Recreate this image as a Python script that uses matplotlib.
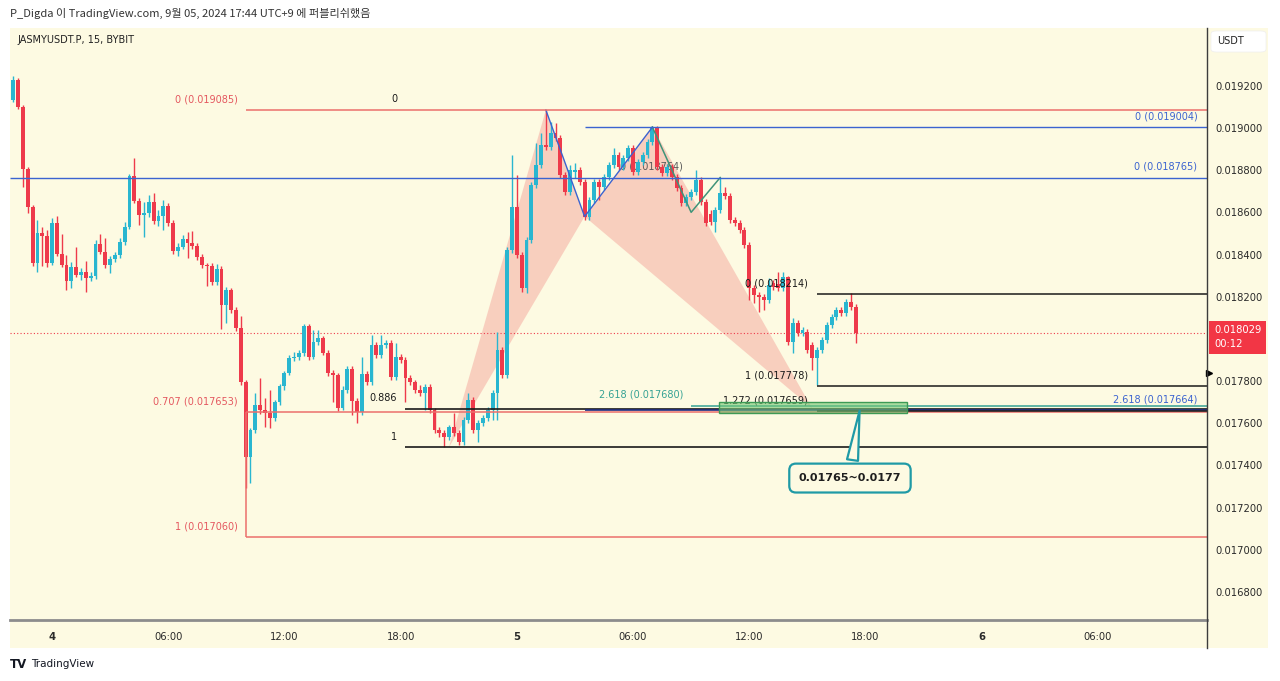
import numpy as np
import pandas as pd
import matplotlib
matplotlib.use("Agg")
import matplotlib.pyplot as plt
import matplotlib.dates as mdates
from matplotlib.patches import Rectangle, FancyBboxPatch
from matplotlib.lines import Line2D
from matplotlib.ticker import FuncFormatter

W, H = 1280, 681
BG = "#fdfae2"
UP = "#29b6d0"
DOWN = "#ee3a4b"

# ===============================
# DATA: JASMYUSDT.P 15m candles (values in 1e-6 USDT)
# ===============================
open_u = [
    19132, 19227, 19100, 18806, 18625, 18360, 18502, 18488, 18360, 18550,
    18402, 18350, 18274, 18341, 18303, 18317, 18289, 18298, 18450, 18412,
    18350, 18379, 18398, 18459, 18531, 18772, 18654, 18587, 18597, 18649,
    18559, 18583, 18630, 18550, 18417, 18436, 18474, 18455, 18440, 18388,
    18350, 18346, 18270, 18331, 18161, 18232, 18137, 18052, 17796, 17440,
    17568, 17687, 17663, 17649, 17625, 17701, 17777, 17838, 17909, 17914,
    17933, 18061, 17914, 17985, 18004, 17933, 17838, 17829, 17672, 17758,
    17857, 17706, 17653, 17833, 17796, 17971, 17924, 17971, 17980, 17819,
    17914, 17900, 17815, 17796, 17758, 17743, 17772, 17663, 17568, 17554,
    17535, 17582, 17554, 17511, 17615, 17710, 17568, 17601, 17625, 17663,
    17743, 17947, 17829, 18421, 18625, 18398, 18241, 18469, 18730, 18825,
    18919, 18910, 18976, 18952, 18777, 18696, 18791, 18801, 18744, 18578,
    18659, 18744, 18720, 18768, 18825, 18872, 18815, 18858, 18905, 18791,
    18839, 18872, 18934, 19000, 18815, 18787, 18815, 18768, 18715, 18644,
    18673, 18696, 18753, 18649, 18592, 18554, 18611, 18692, 18678, 18564,
    18550, 18516, 18445, 18241, 18208, 18199, 18184, 18265, 18260, 18241,
    18293, 17985, 18075, 18028, 18033, 17971, 17909, 17947, 17995, 18066,
    18104, 18137, 18123, 18175, 18151,
]
high_u = [
    19246, 19237, 19109, 18815, 18635, 18564, 18531, 18516, 18573, 18583,
    18497, 18398, 18365, 18436, 18336, 18369, 18317, 18469, 18497, 18478,
    18393, 18412, 18478, 18554, 18782, 18858, 18668, 18649, 18682, 18692,
    18611, 18659, 18644, 18564, 18455, 18493, 18507, 18512, 18455, 18402,
    18360, 18360, 18355, 18346, 18246, 18241, 18151, 18109, 17805, 17577,
    17743, 17815, 17720, 17758, 17710, 17786, 17848, 17924, 17938, 17947,
    18071, 18071, 18042, 18042, 18014, 17947, 17852, 17838, 17777, 17871,
    17871, 17720, 17914, 17848, 18018, 17985, 18018, 17995, 17995, 17980,
    17928, 17914, 17829, 17805, 17781, 17786, 17786, 17672, 17582, 17568,
    17592, 17649, 17568, 17630, 17743, 17724, 17615, 17639, 17677, 17758,
    18033, 17961, 18436, 18872, 18777, 18412, 18483, 18744, 18929, 18976,
    19085, 19028, 19024, 18967, 18791, 18825, 18834, 18815, 18758, 18673,
    18758, 18758, 18782, 18839, 18905, 18886, 18872, 18919, 18919, 18853,
    18886, 18948, 19009, 19009, 18829, 18829, 18829, 18782, 18730, 18687,
    18711, 18801, 18768, 18663, 18611, 18625, 18763, 18720, 18692, 18578,
    18564, 18531, 18459, 18255, 18222, 18213, 18289, 18279, 18317, 18317,
    18298, 18099, 18090, 18056, 18047, 17985, 17961, 18009, 18080, 18118,
    18151, 18151, 18189, 18218, 18165,
]
low_u = [
    19123, 19090, 18720, 18597, 18346, 18317, 18346, 18341, 18350, 18393,
    18341, 18232, 18241, 18293, 18279, 18222, 18274, 18284, 18402, 18336,
    18312, 18365, 18384, 18445, 18521, 18644, 18540, 18483, 18578, 18545,
    18535, 18516, 18535, 18402, 18393, 18426, 18384, 18426, 18374, 18336,
    18251, 18255, 18255, 18047, 18075, 18123, 18037, 17781, 17293, 17317,
    17554, 17644, 17582, 17577, 17611, 17687, 17758, 17829, 17895, 17900,
    17919, 17900, 17905, 17971, 17924, 17824, 17701, 17658, 17663, 17743,
    17639, 17601, 17639, 17781, 17781, 17909, 17909, 17957, 17805, 17805,
    17886, 17701, 17781, 17743, 17729, 17663, 17649, 17554, 17535, 17487,
    17521, 17540, 17497, 17497, 17601, 17554, 17511, 17587, 17611, 17615,
    17615, 17815, 17815, 18407, 18384, 18222, 18218, 18455, 18715, 18810,
    18896, 18896, 18938, 18763, 18682, 18682, 18763, 18730, 18564, 18564,
    18644, 18659, 18706, 18753, 18810, 18801, 18801, 18844, 18777, 18777,
    18825, 18858, 18919, 18801, 18772, 18772, 18753, 18701, 18630, 18630,
    18659, 18682, 18635, 18535, 18540, 18507, 18597, 18663, 18550, 18535,
    18502, 18431, 18184, 18170, 18127, 18137, 18170, 18232, 18227, 18227,
    17971, 17933, 18014, 18014, 17933, 17852, 17781, 17933, 17980, 18052,
    18090, 18109, 18109, 18137, 17980,
]
close_u = [
    19227, 19100, 18806, 18625, 18360, 18502, 18488, 18360, 18550, 18402,
    18350, 18274, 18341, 18303, 18317, 18289, 18298, 18450, 18412, 18350,
    18379, 18398, 18459, 18531, 18772, 18654, 18587, 18597, 18649, 18559,
    18583, 18630, 18550, 18417, 18436, 18474, 18455, 18440, 18388, 18350,
    18346, 18270, 18331, 18161, 18232, 18137, 18052, 17796, 17440, 17568,
    17687, 17663, 17649, 17625, 17701, 17777, 17838, 17909, 17914, 17933,
    18061, 17914, 17985, 18004, 17933, 17838, 17829, 17672, 17758, 17857,
    17706, 17653, 17833, 17796, 17971, 17924, 17971, 17980, 17819, 17914,
    17900, 17815, 17796, 17758, 17743, 17772, 17663, 17568, 17554, 17535,
    17582, 17554, 17511, 17615, 17710, 17568, 17601, 17625, 17663, 17743,
    17947, 17829, 18421, 18625, 18398, 18241, 18469, 18730, 18825, 18919,
    18910, 18976, 18952, 18777, 18696, 18801, 18801, 18744, 18578, 18659,
    18744, 18720, 18768, 18825, 18872, 18815, 18858, 18905, 18791, 18839,
    18872, 18934, 19000, 18815, 18787, 18815, 18768, 18715, 18644, 18673,
    18696, 18753, 18649, 18550, 18554, 18611, 18692, 18678, 18564, 18550,
    18516, 18445, 18241, 18208, 18199, 18184, 18255, 18246, 18241, 18293,
    17985, 18075, 18028, 18042, 17947, 17909, 17947, 17995, 18066, 18104,
    18137, 18123, 18175, 18151, 18029,
]
first_candle = "2024-09-03 22:00"

# Drawing levels (USDT)
red_fib_levels = [0.019085, 0.017653, 0.017060]
red_fib_labels = ["0 (0.019085)", "0.707 (0.017653)", "1 (0.017060)"]
black_fib_levels = [0.019085, 0.017669, 0.017487]
black_fib_labels = ["0", "0.886", "1"]
right_fib_levels = [0.018214, 0.017778, 0.017659]
right_fib_labels = ["0 (0.018214)", "1 (0.017778)", "1.272 (0.017659)"]
harmonic_times = ["2024-09-04 20:30", "2024-09-05 01:30", "2024-09-05 03:30",
                  "2024-09-05 07:00", "2024-09-05 15:15"]
harmonic_prices = [0.017487, 0.019085, 0.018580, 0.019004, 0.017670]
abcd_times = ["2024-09-05 07:00", "2024-09-05 09:00", "2024-09-05 10:30"]
abcd_prices = [0.019004, 0.018600, 0.018765]
zone_low, zone_high = 0.01765, 0.0177
zone_label = "0.01765~0.0177"

# 0.018000 is hidden under the last-price tag on the price scale
y_ticks = [0.0168, 0.0170, 0.0172, 0.0174, 0.0176, 0.0178,
           0.0182, 0.0184, 0.0186, 0.0188, 0.0190, 0.0192]
x_tick_times = ["2024-09-04 00:00", "2024-09-04 06:00", "2024-09-04 12:00",
                "2024-09-04 18:00", "2024-09-05 00:00", "2024-09-05 06:00",
                "2024-09-05 12:00", "2024-09-05 18:00", "2024-09-06 00:00",
                "2024-09-06 06:00"]
x_tick_labels = ["4", "06:00", "12:00", "18:00", "5", "06:00", "12:00",
                 "18:00", "6", "06:00"]

o = np.array(open_u) * 1e-6
h = np.array(high_u) * 1e-6
l = np.array(low_u) * 1e-6
c = np.array(close_u) * 1e-6
times = pd.date_range(first_candle, periods=len(c), freq="15min")
xs = mdates.date2num(times)


def tx(s):
    return mdates.date2num(pd.Timestamp(s))


def fx(px):
    return px / W


def fy(py):
    return 1 - py / H


fig = plt.figure(figsize=(W / 100, H / 100), dpi=100)
fig.patch.set_facecolor("white")
fig.add_artist(Rectangle((fx(10), fy(648)), fx(1268) - fx(10), fy(28) - fy(648),
                         transform=fig.transFigure, fc=BG, ec="none", zorder=0))

ax = fig.add_axes([fx(10), fy(620), fx(1207) - fx(10), fy(28) - fy(620)])
ax.set_facecolor(BG)
x_left, x_right = tx("2024-09-03 21:50"), tx("2024-09-06 11:38")
ax.set_xlim(x_left, x_right)
ax.set_ylim(0.016667, 0.019474)
for s in ax.spines.values():
    s.set_visible(False)

# harmonic pattern fill (under candles)
PINK = "#f8cbbb"
hx = [tx(t) for t in harmonic_times]
ax.fill([hx[0], hx[1], hx[2]], harmonic_prices[:3], color=PINK, alpha=0.9, lw=0, zorder=1)
ax.fill([hx[2], hx[3], hx[4]], harmonic_prices[2:], color=PINK, alpha=0.9, lw=0, zorder=1)
ax.annotate("0 (0.018764)", (tx("2024-09-05 08:35"), 0.018765), xytext=(0, 4),
            textcoords="offset points", ha="right", va="bottom", fontsize=7,
            color="#5a5a5a", zorder=2)

# candles
up = c >= o
cols = np.where(up, UP, DOWN)
ax.vlines(xs, l, h, colors=cols, lw=1, zorder=3)
ax.bar(xs, np.maximum(np.abs(c - o), 0.000003), bottom=np.minimum(o, c),
       width=0.2 / 24, color=cols, lw=0, zorder=4)

# zigzags
ax.plot(hx[1:4], harmonic_prices[1:4], color="#3b63d0", lw=1, zorder=5)
ax.plot([tx(t) for t in abcd_times], abcd_prices, color="#3f9479", lw=1.1, zorder=5)

# current price line
last = c[-1]
ax.axhline(last, color=DOWN, ls=(0, (1, 2)), lw=0.8, zorder=2)

# red fib (left)
red = "#e4575f"
x0 = tx("2024-09-04 10:00")
for lev, lab in zip(red_fib_levels, red_fib_labels):
    ax.hlines(lev, x0, x_right, color="#ec6f6c", lw=1.1, zorder=5)
    ax.annotate(lab, (tx("2024-09-04 09:36"), lev), xytext=(0, 4), textcoords="offset points",
                ha="right", va="bottom", fontsize=7, color=red, zorder=6)
ax.vlines(x0, red_fib_levels[2], red_fib_levels[1], color="#ec6f6c", lw=1.1, zorder=5)

# black fib (0 / 0.886 / 1)
x1 = tx("2024-09-04 18:15")
for lev, lab in zip(black_fib_levels, black_fib_labels):
    if lab != "0":
        ax.hlines(lev, x1, x_right, color="#1a1a1a", lw=1.2, zorder=5)
    ax.annotate(lab, (tx("2024-09-04 17:49"), lev), xytext=(0, 4), textcoords="offset points",
                ha="right", va="bottom", fontsize=7, color="#1a1a1a", zorder=6)

# blue / teal levels
yt = ax.get_yaxis_transform()
ax.hlines(0.019004, tx("2024-09-05 03:30"), x_right, color="#3b63d0", lw=1, zorder=5)
ax.hlines(0.018765, x_left, x_right, color="#3b63d0", lw=1, zorder=5)
ax.hlines(0.017664, tx("2024-09-05 03:30"), x_right, color="#1c2a80", lw=1.2, zorder=5)
ax.hlines(0.017680, tx("2024-09-05 09:00"), x_right, color="#35a294", lw=1.1, zorder=5)
for lev, lab in [(0.019004, "0 (0.019004)"), (0.018765, "0 (0.018765)"),
                 (0.017664, "2.618 (0.017664)")]:
    ax.annotate(lab, (1, lev), xycoords=yt, xytext=(-7, 4), textcoords="offset points",
                ha="right", va="bottom", fontsize=7, color="#3b63d0", zorder=6)
ax.annotate("2.618 (0.017680)", (tx("2024-09-05 08:35"), 0.017680), xytext=(0, 5),
            textcoords="offset points", ha="right", va="bottom", fontsize=7,
            color="#35a294", zorder=6)

# black fib (right)
x2 = tx("2024-09-05 15:30")
for lev, lab in zip(right_fib_levels, right_fib_labels):
    ax.hlines(lev, x2, x_right, color="#1a1a1a", lw=1.1, zorder=5)
    ax.annotate(lab, (tx("2024-09-05 15:02"), lev), xytext=(0, 4), textcoords="offset points",
                ha="right", va="bottom", fontsize=7, color="#1a1a1a", zorder=6)

# target zone
z0, z1 = tx("2024-09-05 10:25"), tx("2024-09-05 20:10")
ax.add_patch(Rectangle((z0, zone_low), z1 - z0, zone_high - zone_low,
                       fc=(0.45, 0.78, 0.45, 0.6), ec="#3d9a55", lw=1, zorder=7))
ax.annotate(zone_label, xy=(tx("2024-09-05 17:43"), 0.017672),
            xytext=(tx("2024-09-05 17:12"), 0.01734), ha="center", va="center",
            fontsize=8, fontweight="bold", color="#1e1e1e", zorder=8,
            bbox=dict(boxstyle="round,pad=0.85,rounding_size=0.6", fc=BG, ec="#1f9aa6", lw=1.6),
            arrowprops=dict(arrowstyle="wedge,tail_width=1.0,shrink_factor=0.5",
                            fc=BG, ec="#1f9aa6", lw=1.6))

# axes ticks
ax.yaxis.tick_right()
ax.set_yticks(y_ticks)
ax.yaxis.set_major_formatter(FuncFormatter(lambda v, p: f"{v:.6f}"))
ax.tick_params(axis="y", length=0, pad=6, labelsize=7.2, labelcolor="#2a2a2a")
ax.set_xticks([tx(t) for t in x_tick_times])
ax.set_xticklabels(x_tick_labels)
ax.tick_params(axis="x", length=0, pad=9, labelsize=7.2, labelcolor="#2a2a2a")
for lab in ax.get_xticklabels():
    if ":" not in lab.get_text():
        lab.set_fontweight("bold")

# last price tag + marker on price scale
ax.annotate(f"{last:.6f}\n00:12", xy=(1, last), xycoords=yt, xytext=(5, 5.5),
            textcoords="offset points", ha="left", va="top", color="white",
            fontsize=7.2, linespacing=1.5, annotation_clip=False, zorder=10,
            bbox=dict(boxstyle="square,pad=0.45", fc="#f23645", ec="none"))
ax.plot([1.002], [0.017838], marker=">", ms=5, color="black", transform=yt, clip_on=False)

# separators
fig.add_artist(Line2D([fx(10), fx(1207)], [fy(620), fy(620)], color="#8c8c8c", lw=2))
fig.add_artist(Line2D([fx(1207), fx(1207)], [fy(28), fy(648)], color="#3c3c3c", lw=1))

# texts
fig.text(fx(10), fy(13), "P_Digda 이 TradingView.com, 9월 05, 2024 17:44 UTC+9 에 퍼블리쉬했음",
         fontsize=8, family=["Noto Sans CJK KR", "DejaVu Sans"], va="center", color="#333333")
fig.text(fx(17), fy(40), "JASMYUSDT.P, 15, BYBIT", fontsize=7, va="center", color="#222222")
fig.add_artist(FancyBboxPatch((fx(1211), fy(52)), fx(1266) - fx(1211), fy(31) - fy(52),
                              boxstyle="round,pad=0,rounding_size=0.004",
                              transform=fig.transFigure, fc="white", ec="#eeeeee", lw=0.5))
fig.text(fx(1217), fy(41.5), "USDT", fontsize=7, va="center", color="#222222")
fig.text(fx(10), fy(664), "TV", fontsize=8.5, fontweight="heavy", va="center", color="#131722")
fig.text(fx(31), fy(664), "TradingView", fontsize=7.5, va="center", color="#131722")

fig.savefig("out.png", dpi=100, facecolor=fig.get_facecolor())
